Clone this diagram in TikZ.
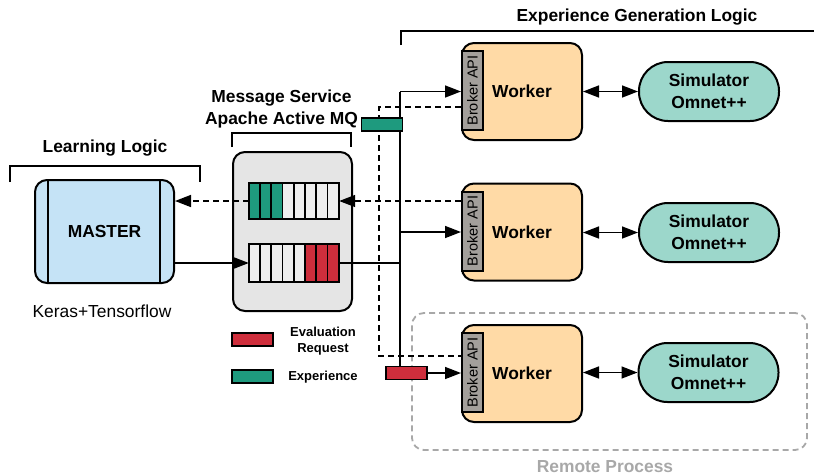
\documentclass[tikz,border=0pt]{standalone}
\usepackage{fontspec}
\setmainfont{Liberation Sans}
\usetikzlibrary{arrows.meta,calc}
\definecolor{mblue}{HTML}{C5E3F6}
\definecolor{mgray}{HTML}{E5E5E5}
\definecolor{cellgray}{HTML}{EEEEEE}
\definecolor{qgreen}{HTML}{1E9A7E}
\definecolor{qred}{HTML}{CE2E3C}
\definecolor{wfill}{HTML}{FFDAA6}
\definecolor{bfill}{HTML}{A39F9B}
\definecolor{sfill}{HTML}{9CD7CB}
\definecolor{rgray}{HTML}{A8A8A8}
\begin{document}
\begin{tikzpicture}[x=1pt,y=-1pt,
  big/.style={font=\fontsize{17.4}{22}\selectfont\bfseries},
  box/.style={draw=black,line width=2pt,rounded corners=12pt,inner sep=0pt},
  msgrect/.style={draw=black,line width=1.6pt,minimum width=41pt,minimum height=13pt,inner sep=0pt},
  conn/.style={line width=1.5pt},
  arr/.style={line width=1.5pt,arrows={-Triangle[length=16pt,width=12pt]}},
  dsh/.style={line width=1.5pt,dash pattern=on 6pt off 4pt},
  brk/.style={line width=1.5pt},
  worker/.style={box,fill=wfill,minimum width=120pt,minimum height=97pt},
  broker/.style={draw=black,line width=2pt,fill=bfill,minimum width=21pt,minimum height=79pt,inner sep=0pt},
  sim/.style={draw=black,line width=2pt,fill=sfill,rounded corners=29pt,minimum width=140pt,minimum height=59pt,align=center,font=\fontsize{17.4}{22}\selectfont\bfseries},
  btext/.style={rotate=90,font=\fontsize{14.5}{14}\selectfont,inner sep=0pt}
]
\useasboundingbox (0,0) rectangle (814,475);

% brackets and titles
\draw[brk] (10,182) -- (10,166) -- (200,166) -- (200,182);
\node[big] (tlearn) at (105,148) {Learning Logic};
\draw[brk] (232,147) -- (232,133) -- (351,133) -- (351,147);
\node[big,align=center] (tmsg) at (281.5,109) {Message Service\\Apache Active MQ};
\draw[brk] (401,45) -- (401,31) -- (814,31);
\node[big] (texp) at (637,17) {Experience Generation Logic};

% remote process
\node[draw=rgray,line width=1.8pt,dash pattern=on 6pt off 4pt,rounded corners=12pt,minimum width=395pt,minimum height=137pt] (remote) at (609.5,381.5) {};
\node[big,text=rgray] (tremote) at (605,467) {Remote Process};

% master
\node[box,fill=mblue,minimum width=139pt,minimum height=103pt] (master) at (104.5,231.5) {};
\draw[line width=2pt] ($(master.north west)+(14,0)$) -- ($(master.south west)+(14,0)$);
\draw[line width=2pt] ($(master.north east)+(-15,0)$) -- ($(master.south east)+(-15,0)$);
\node[big] (mtext) at (master.center) {MASTER};
\node[font=\fontsize{17.4}{22}\selectfont] (keras) at (102,311) {Keras+Tensorflow};

% message service
\node[box,fill=mgray,minimum width=119pt,minimum height=159pt] (mq) at (292.5,231.5) {};
\node[minimum width=90pt,minimum height=36pt,inner sep=0pt] (qtop) at (294,201) {};
\node[minimum width=90pt,minimum height=38pt,inner sep=0pt] (qbot) at (294,263) {};
\foreach \i in {0,...,7}{
  \ifnum\i<3 \def\cc{qgreen}\else\def\cc{cellgray}\fi
  \draw[line width=1.8pt,fill=\cc] ($(qtop.north west)+(\i*11.25,0)$) rectangle ++(11.25,36);
  \ifnum\i>4 \def\cd{qred}\else\def\cd{cellgray}\fi
  \draw[line width=1.8pt,fill=\cd] ($(qbot.north west)+(\i*11.25,0)$) rectangle ++(11.25,38);
}

% workers
\foreach \n/\y in {1/91.5,2/232,3/373.5}{
  \node[worker] (w\n) at (522,\y) {};
  \node[big] (wt\n) at (522,\y) {Worker};
  \node[broker] (b\n) at (472.5,\y-1) {};
  \node[btext] (bt\n) at (b\n.center) {Broker API};
}
\node[sim] (s1) at (709,91.5) {Simulator\\Omnet++};
\node[sim] (s2) at (709,232.5) {Simulator\\Omnet++};
\node[sim] (s3) at (708.5,372.5) {Simulator\\Omnet++};
\foreach \n in {1,2,3}{
  \coordinate (m\n) at ($(w\n.east |- s\n)!0.5!(s\n.west)$);
  \draw[arr] (m\n) -- (s\n.west);
  \draw[arr] (m\n) -- (w\n.east |- s\n);
}

% messages on the wire
\node[msgrect,fill=qred] (rmsg) at (406.5,373) {};
\coordinate (vtop) at (400,91.5);
\coordinate (d1) at (379,107);
\coordinate (d3) at (379,356);

% solid distribution
\draw[conn] (qbot.east) -- (vtop |- qbot.east);
\draw[conn] (vtop) -- (vtop |- rmsg.north);
\draw[arr] (vtop) -- (b1.west |- vtop);
\draw[arr] (vtop |- w2) -- (b2.west |- w2);
\draw[arr] (rmsg.east) -- (b3.west |- rmsg.east);
\draw[arr] (master.east |- qbot) -- (qbot.west);

% dashed collection
\draw[dsh] (b1.west |- d1) -- (d1) -- (d3) -- (b3.west |- d3);
\draw[dsh,arrows={-Triangle[length=16pt,width=12pt]}] (b2.west |- qtop) -- (qtop.east);
\draw[dsh,arrows={-Triangle[length=16pt,width=12pt]}] (qtop.west) -- (master.east |- qtop);

\node[msgrect,fill=qgreen] (gmsg) at (382,124.5) {};

% legend
\node[msgrect,fill=qred] (lred) at (252.5,339.5) {};
\node[font=\fontsize{13}{16}\selectfont\bfseries,align=center] (lredt) at (323,341) {Evaluation\\Request};
\node[msgrect,fill=qgreen] (lgreen) at (252.5,376.5) {};
\node[font=\fontsize{13}{16}\selectfont\bfseries] (lgreent) at (323,377) {Experience};
\end{tikzpicture}
\end{document}
